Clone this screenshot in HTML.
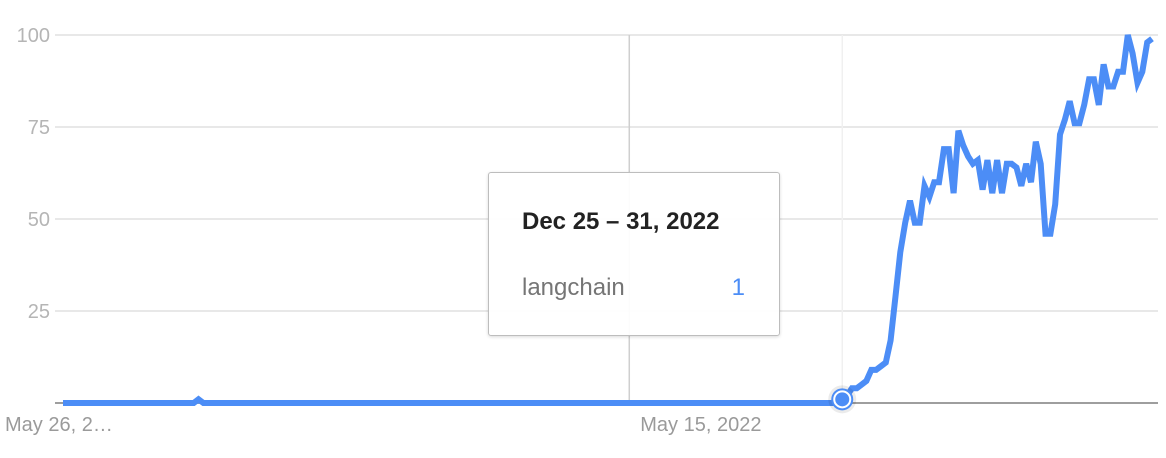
<!DOCTYPE html>
<html><head><meta charset="utf-8"><style>
html,body{margin:0;padding:0;background:#fff;width:1166px;height:458px;overflow:hidden;font-family:"Liberation Sans",sans-serif}
#tip{position:absolute;left:488px;top:172px;width:290px;height:162px;border:1px solid #bdbdbd;border-radius:3px;background:rgba(255,255,255,0.93);box-shadow:0 1px 3px rgba(0,0,0,0.15)}
#tip .d{position:absolute;left:33px;top:35px;font-size:24px;font-weight:bold;color:#222;white-space:nowrap}
#tip .n{position:absolute;left:33px;top:101px;font-size:24px;color:#757575}
#tip .v{position:absolute;right:34px;top:101px;font-size:24px;color:#4c8df6}
</style></head><body>
<svg id="chart" width="1166" height="458" style="position:absolute;left:0;top:0"></svg>
<div id="tip">
<div class="d">Dec 25 – 31, 2022</div>
<div class="n">langchain</div>
<div class="v">1</div>
</div>
<script>
const yTicks=[25,50,75,100];
const xTickLabels=["May 26, 2…","May 15, 2022"];
const xTickIndex=[0,117];
const flatValues=new Array(161).fill(0);
flatValues[28]=1;
const riseValues=[1,2,4,4,5,6,9,9,10,11,17,29,41,49,55,49,49,59,56,60,60,69,69,57,74,70,67,65,66,58,66,57,66,57,65,65,64,59,65,60,71,65,46,46,54,73,77,82,76,76,81,88,88,81,92,86,86,90,90,100,95,87,90,98,99];
const values=flatValues.concat(riseValues);
const highlightIndex=161;
const NS="http://www.w3.org/2000/svg";
const svg=document.getElementById('chart');
const x0=63,x1=1152,y0=403,yTop=35;
const xs=i=>x0+(x1-x0)*i/(values.length-1);
const ys=v=>y0-(y0-yTop)*v/100;
function mk(t,a){const e=document.createElementNS(NS,t);for(const k in a)e.setAttribute(k,a[k]);svg.appendChild(e);return e;}
yTicks.forEach(t=>{
 const l=mk('line',{x1:x0-8,x2:x1+6,y1:ys(t),y2:ys(t),stroke:'#e0e0e0','stroke-width':1.5});
 
 
 const tx=mk('text',{x:50,y:ys(t)+7,'text-anchor':'end','font-size':20,fill:'#b5b5b5','font-family':'Liberation Sans, sans-serif'});
 tx.textContent=t;
 
 
});
const vg=mk('line',{x1:xs(xTickIndex[1]),x2:xs(xTickIndex[1]),y1:yTop,y2:y0,stroke:'#cfcfcf','stroke-width':1.5});


const hl=mk('line',{x1:xs(highlightIndex),x2:xs(highlightIndex),y1:yTop,y2:y0,stroke:'#f0f0f0','stroke-width':1.5});


const base=mk('line',{x1:x0-8,x2:x1+6,y1:y0,y2:y0,stroke:'#9e9e9e','stroke-width':2});


xTickIndex.forEach((ix,k)=>{
 const tx=mk('text',{x:k==0?5:xs(ix)+11,y:431,'font-size':20,fill:'#9a9a9a','font-family':'Liberation Sans, sans-serif'});
 tx.textContent=xTickLabels[k];
 
 
});
const p=mk('path',{d:values.map((v,i)=>(i?'L':'M')+xs(i).toFixed(1)+','+ys(v).toFixed(1)).join(''),fill:'none',stroke:'#4c8df6','stroke-width':6,'stroke-linejoin':'miter'});


const hx=xs(highlightIndex),hy=ys(values[highlightIndex]);
const halo=mk('circle',{cx:hx,cy:hy,r:14,fill:'rgba(0,0,0,0.08)'});


const c1=mk('circle',{cx:hx,cy:hy,r:11,fill:'#4c8df6'});


const c2=mk('circle',{cx:hx,cy:hy,r:8,fill:'none',stroke:'#fff','stroke-width':2});


const c3=mk('circle',{cx:hx,cy:hy,r:6,fill:'#4c8df6'});


</script>
</body></html>
